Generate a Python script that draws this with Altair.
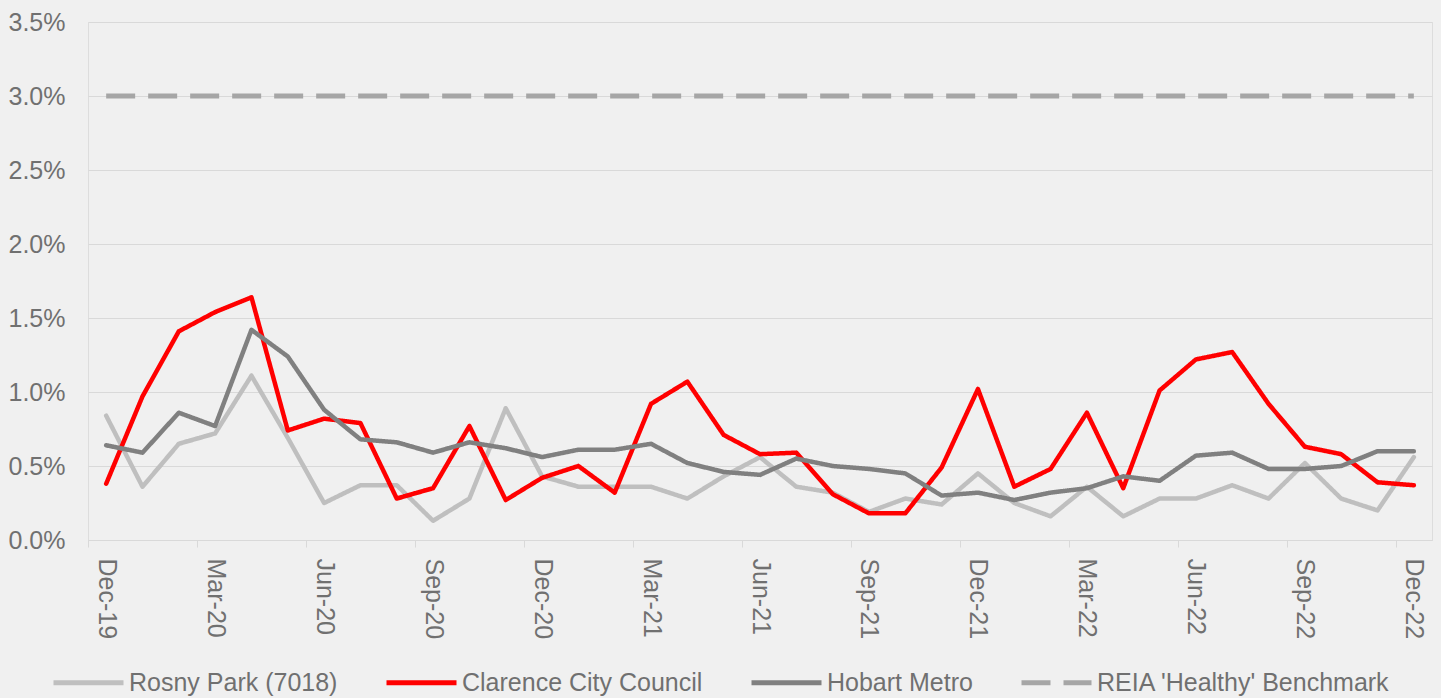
import altair as alt
import pandas as pd

months = ["Dec-19", "Jan-20", "Feb-20", "Mar-20", "Apr-20", "May-20", "Jun-20", "Jul-20",
          "Aug-20", "Sep-20", "Oct-20", "Nov-20", "Dec-20", "Jan-21", "Feb-21", "Mar-21",
          "Apr-21", "May-21", "Jun-21", "Jul-21", "Aug-21", "Sep-21", "Oct-21", "Nov-21",
          "Dec-21", "Jan-22", "Feb-22", "Mar-22", "Apr-22", "May-22", "Jun-22", "Jul-22",
          "Aug-22", "Sep-22", "Oct-22", "Nov-22", "Dec-22"]
tick_months = ["Dec-19", "Mar-20", "Jun-20", "Sep-20", "Dec-20", "Mar-21", "Jun-21",
               "Sep-21", "Dec-21", "Mar-22", "Jun-22", "Sep-22", "Dec-22"]

rosny = [0.84, 0.36, 0.65, 0.72, 1.11, 0.69, 0.25, 0.37, 0.37, 0.13, 0.28, 0.89,
         0.43, 0.36, 0.36, 0.36, 0.28, 0.43, 0.56, 0.36, 0.32, 0.19, 0.28, 0.24,
         0.45, 0.25, 0.16, 0.36, 0.16, 0.28, 0.28, 0.37, 0.28, 0.52, 0.28, 0.20, 0.56]
clarence = [0.38, 0.97, 1.41, 1.54, 1.64, 0.74, 0.82, 0.79, 0.28, 0.35, 0.77, 0.27,
            0.42, 0.50, 0.32, 0.92, 1.07, 0.71, 0.58, 0.59, 0.31, 0.18, 0.18, 0.49,
            1.02, 0.36, 0.48, 0.86, 0.35, 1.01, 1.22, 1.27, 0.92, 0.63, 0.58, 0.39, 0.37]
hobart = [0.64, 0.59, 0.86, 0.77, 1.42, 1.24, 0.88, 0.68, 0.66, 0.59, 0.66, 0.62,
          0.56, 0.61, 0.61, 0.65, 0.52, 0.46, 0.44, 0.55, 0.50, 0.48, 0.45, 0.30,
          0.32, 0.27, 0.32, 0.35, 0.43, 0.40, 0.57, 0.59, 0.48, 0.48, 0.50, 0.60, 0.60]
benchmark = [3.0, 3.0, 3.0, 3.0, 3.0, 3.0, 3.0, 3.0, 3.0, 3.0, 3.0, 3.0, 3.0,
             3.0, 3.0, 3.0, 3.0, 3.0, 3.0, 3.0, 3.0, 3.0, 3.0, 3.0, 3.0, 3.0,
             3.0, 3.0, 3.0, 3.0, 3.0, 3.0, 3.0, 3.0, 3.0, 3.0, 3.0]

series_names = ["Rosny Park (7018)", "Clarence City Council", "Hobart Metro",
                "REIA 'Healthy' Benchmark"]
series_colors = ["#BFBFBF", "#FF0000", "#808080", "#A6A6A6"]
series_dashes = [[1, 0], [1, 0], [1, 0], [29, 13]]
y_ticks = [0, 0.5, 1.0, 1.5, 2.0, 2.5, 3.0, 3.5]

rows = []
for name, vals in zip(series_names, [rosny, clarence, hobart, benchmark]):
    for m, v in zip(months, vals):
        rows.append({"month": m, "series": name, "value": v})
df = pd.DataFrame(rows)

FONT = "Liberation Sans"
TXT = "#707070"
GRID = "#D9D9D9"
W, H = 1344, 518
HALF_BAND = W / len(months) / 2

x_enc = alt.X(
    "month:O",
    sort=months,
    scale=alt.Scale(type="band", paddingInner=0, paddingOuter=0),
    axis=alt.Axis(
        values=tick_months, labelAngle=90, title=None,
        grid=False, domainColor=GRID, domainWidth=1, tickColor=GRID, tickSize=7,
        ticks=True, tickOffset=-HALF_BAND, labelOffset=HALF_BAND,
        labelPadding=11, labelFontSize=25, labelColor=TXT, labelFont=FONT,
    ),
)
y_enc = alt.Y(
    "value:Q",
    scale=alt.Scale(domain=[0, 3.5], nice=False),
    axis=alt.Axis(
        values=y_ticks, title=None, grid=True, gridColor=GRID, gridWidth=1,
        domain=False, ticks=False, labelPadding=23, labelFontSize=25,
        labelColor=TXT, labelFont=FONT,
        labelExpr="format(datum.value, '.1f') + '%'",
    ),
)
legend = alt.Legend(
    title=None, orient="none", direction="horizontal", legendX=-37, legendY=623,
    symbolType="stroke", symbolSize=4900, symbolStrokeWidth=5,
    labelFontSize=25, labelFont=FONT, labelColor=TXT, labelOffset=3,
    columnPadding=38, padding=0, labelLimit=400,
)
color_enc = alt.Color(
    "series:N",
    scale=alt.Scale(domain=series_names, range=series_colors),
    legend=legend,
)
dash_enc = alt.StrokeDash(
    "series:N",
    scale=alt.Scale(domain=series_names, range=series_dashes),
    legend=legend,
)

base = alt.Chart(df).encode(x=x_enc, y=y_enc, color=color_enc, strokeDash=dash_enc)

layers = []
for name in series_names:
    if name.startswith("REIA"):
        mk = base.mark_line(strokeWidth=5, strokeCap="butt")
    else:
        mk = base.mark_line(strokeWidth=4.5, strokeCap="round", strokeJoin="round")
    layers.append(mk.transform_filter(alt.datum.series == name))

chart = alt.layer(*layers).properties(
    width=W, height=H,
    autosize=alt.AutoSizeParams(type="none"),
    padding={"left": 88, "top": 22, "right": 9, "bottom": 158},
    background="#F0F0F0",
).configure_view(stroke=None).configure(font=FONT)

chart.save("out.html", embed_options={"renderer": "svg", "actions": False})
